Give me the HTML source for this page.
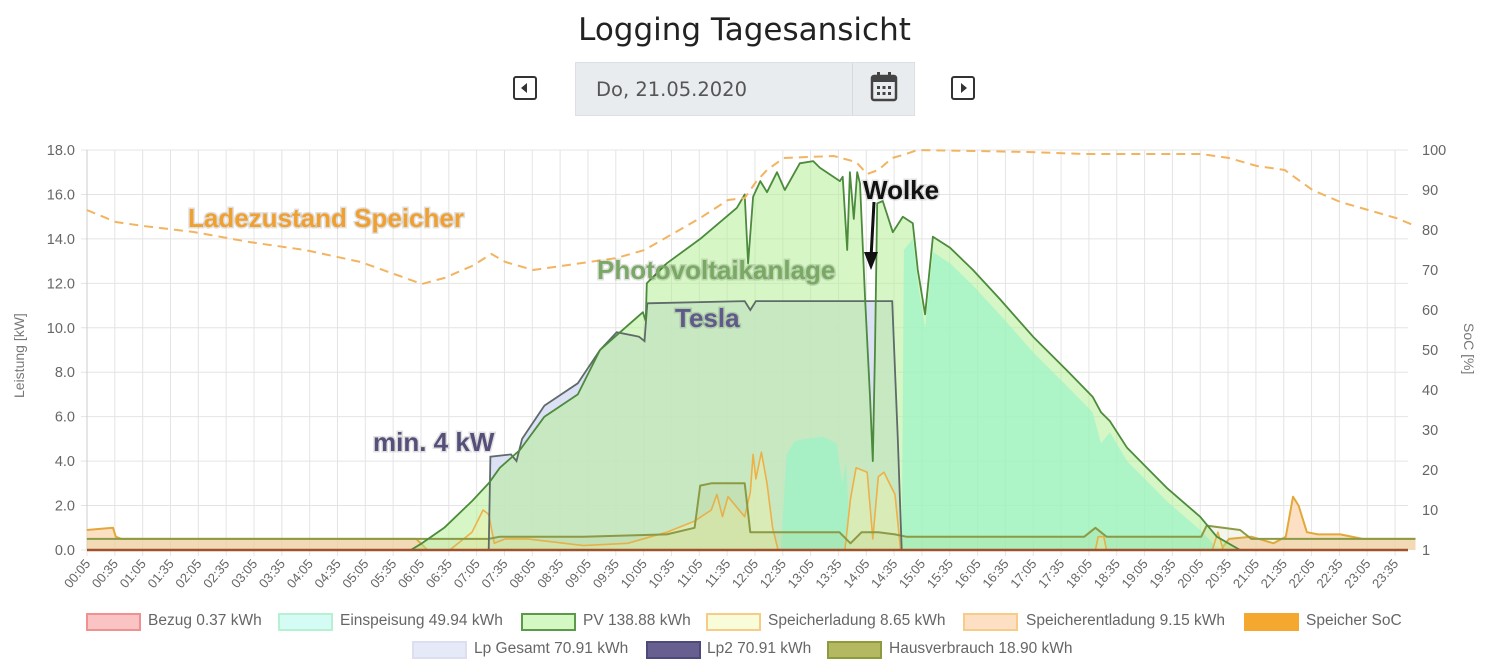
<!DOCTYPE html>
<html><head><meta charset="utf-8">
<style>
body{margin:0;width:1489px;height:668px;background:#fff;overflow:hidden;font-family:"Liberation Sans",sans-serif;position:relative}
.title{position:absolute;left:0;width:1489px;top:12px;text-align:center;font-size:31px;color:#222;font-family:"DejaVu Sans","Liberation Sans",sans-serif}
.nav{position:absolute;top:76px;width:24px;height:24px;border:2px solid #333;border-radius:3px;box-sizing:border-box}
.datebox{position:absolute;left:575px;top:62px;width:340px;height:54px;background:#e9ecef;border:1px solid #dcdfe3;box-sizing:border-box}
.datebox span{position:absolute;left:20px;top:15px;font-size:19.5px;color:#555;font-family:"DejaVu Sans","Liberation Sans",sans-serif}
.cal{position:absolute;left:276px;top:0;width:62px;height:52px;border-left:1px solid #d6d9dd}
.leg{position:absolute;font-size:15.5px;color:#666;line-height:18px}
.lb{position:absolute;width:51px;height:14px;border:2px solid}
</style></head><body>
<div class="title">Logging Tagesansicht</div>
<div class="nav" style="left:513px"><svg width="20" height="20"><polygon points="12,5 12,15 6,10" fill="#333"/></svg></div>
<div class="datebox"><span>Do, 21.05.2020</span>
<div class="cal"><svg width="62" height="52"><rect x="19" y="13" width="24" height="24" rx="2" fill="none" stroke="#444" stroke-width="2.5"/><rect x="19" y="13" width="24" height="6" fill="#444"/><rect x="24" y="9" width="3" height="6" fill="#444"/><rect x="35" y="9" width="3" height="6" fill="#444"/><g fill="#444"><rect x="24" y="23" width="3" height="3"/><rect x="29.5" y="23" width="3" height="3"/><rect x="35" y="23" width="3" height="3"/><rect x="24" y="29" width="3" height="3"/><rect x="29.5" y="29" width="3" height="3"/><rect x="35" y="29" width="3" height="3"/></g></svg></div></div>
<div class="nav" style="left:951px"><svg width="20" height="20"><polygon points="8,5 8,15 14,10" fill="#333"/></svg></div>

<svg id="chart" width="1489" height="668" style="position:absolute;left:0;top:0"></svg>

<div>
<div class="lb" style="left:86px;top:613px;background:#fbc4c4;border-color:#f09090"></div><div class="leg" style="left:148px;top:612px">Bezug 0.37 kWh</div>
<div class="lb" style="left:278px;top:613px;background:#d4fbf4;border-color:#b8f0d4"></div><div class="leg" style="left:340px;top:612px">Einspeisung 49.94 kWh</div>
<div class="lb" style="left:521px;top:613px;background:#d4f8c4;border-color:#5c9a4a"></div><div class="leg" style="left:583px;top:612px">PV 138.88 kWh</div>
<div class="lb" style="left:706px;top:613px;background:#f8fcd8;border-color:#f6cc88"></div><div class="leg" style="left:768px;top:612px">Speicherladung 8.65 kWh</div>
<div class="lb" style="left:963px;top:613px;background:#fde0c4;border-color:#f6cc88"></div><div class="leg" style="left:1026px;top:612px">Speicherentladung 9.15 kWh</div>
<div class="lb" style="left:1244px;top:613px;background:#f4a830;border-color:#f4a830"></div><div class="leg" style="left:1306px;top:612px">Speicher SoC</div>
<div class="lb" style="left:412px;top:641px;background:#e6e9f8;border-color:#dcdfee"></div><div class="leg" style="left:474px;top:640px">Lp Gesamt 70.91 kWh</div>
<div class="lb" style="left:646px;top:641px;background:#675f90;border-color:#4c4a7a"></div><div class="leg" style="left:707px;top:640px">Lp2 70.91 kWh</div>
<div class="lb" style="left:827px;top:641px;background:#b4b860;border-color:#8e9a3e"></div><div class="leg" style="left:889px;top:640px">Hausverbrauch 18.90 kWh</div>
</div>

<script>
const leftTicks=["0.0","2.0","4.0","6.0","8.0","10.0","12.0","14.0","16.0","18.0"];
const rightTicks=["1","10","20","30","40","50","60","70","80","90","100"];
const pvTimes=[5.9,6.1,6.5,7.0,7.3,7.5,7.86,8.3,8.9,9.3,9.66,10.07,10.12,10.14,10.5,11.1,11.76,11.9,11.96,12.05,12.18,12.3,12.48,12.62,12.89,13.13,13.25,13.61,13.66,13.74,13.79,13.86,13.92,13.97,14.06,14.15,14.2,14.24,14.28,14.38,14.56,14.74,14.92,15.01,15.14,15.28,15.59,16.0,16.48,17.08,17.68,18.15,18.3,18.46,18.77,19.48,20.08,20.38,20.8];
const pvValues=[0,0.3,1.0,2.2,3.0,3.7,4.5,6.0,7.0,9.0,9.8,10.7,10.3,12.0,12.9,14.0,15.4,16.0,12.9,15.9,16.6,16.1,17.0,16.2,17.4,17.5,17.2,16.6,16.8,13.5,17.0,14.9,17.0,16.5,11.4,6.9,4.0,9.0,15.6,15.7,14.3,15.0,14.7,12.6,10.6,14.1,13.6,12.6,11.3,9.6,8.1,6.9,6.2,5.8,4.6,2.8,1.5,0.6,0];
const einTimes=[12.55,12.65,12.8,13.0,13.3,13.55,13.65,13.72,13.8,14.72,14.76,14.92,15.01,15.14,15.28,15.59,16.0,16.48,17.08,17.68,18.15,18.3,18.46,18.77,19.48,20.08,20.35,20.5];
const einValues=[0,4.3,4.9,5.0,5.1,4.8,3.0,4.0,0,0,13.5,14.0,12.0,10.0,13.4,12.9,11.9,10.6,8.9,7.4,6.2,4.8,5.3,4.0,2.2,0.9,0.2,0];
const hausTimes=[0.08,6.0,7.3,7.5,9.0,10.5,11.0,11.1,11.3,11.9,12.0,12.1,13.6,13.8,14.0,14.3,14.6,14.8,18.0,18.2,18.4,20.1,20.2,20.8,21.0,23.95];
const hausValues=[0.5,0.5,0.5,0.6,0.6,0.7,1.0,2.9,3.0,3.0,0.8,0.8,0.8,0.3,0.8,0.8,0.7,0.6,0.6,1.0,0.6,0.6,1.1,0.9,0.5,0.5];
const ladTimes=[6.6,7.0,7.2,7.3,7.4,7.6,8.0,9.0,9.8,10.5,11.0,11.3,11.4,11.5,11.6,11.9,12.0,12.05,12.1,12.2,12.3,12.4,12.5,13.7,13.8,13.9,14.1,14.2,14.3,14.4,14.6,14.7,18.2,18.25,18.35,18.4,20.3,20.4,20.5];
const ladValues=[0,0.8,1.8,1.6,0.3,0.5,0.5,0.2,0.3,0.8,1.3,1.8,2.5,1.5,2.4,1.5,2.6,4.3,3.2,4.4,3.0,1.0,0,0,2.3,3.7,3.5,0.5,3.3,3.5,2.5,0,0,0.6,0.6,0,0,0.8,0];
const entTimes=[0.08,0.55,0.6,0.7,6.0,6.2,20.45,20.6,21.0,21.4,21.62,21.75,21.85,22.0,22.2,22.6,23.0,23.95];
const entValues=[0.9,1.0,0.6,0.5,0.5,0,0,0.5,0.6,0.3,0.6,2.4,2.0,0.8,0.7,0.7,0.5,0.5];
const lpTimes=[7.3,7.33,7.7,7.8,7.9,8.3,8.9,9.3,9.6,10.0,10.1,10.15,11.9,12.0,12.1,14.55,14.65,14.72];
const lpValues=[0,4.2,4.3,4.0,5.0,6.5,7.5,9.0,9.8,9.6,9.4,11.1,11.2,10.8,11.2,11.2,5,0];
const socTimes=[0.08,0.6,1.1,2.0,3.0,4.0,5.0,5.6,6.1,6.5,7.0,7.35,7.6,8.1,8.6,9.1,9.6,10.1,10.6,11.1,11.6,11.9,12.1,12.3,12.6,13.5,13.9,14.1,14.3,14.55,14.8,15.0,17.0,18.0,20.1,20.6,21.1,21.6,22.1,22.6,23.1,23.6,23.95];
const socValues=[85,82,81,79.5,77,75,72,69,66.5,68,71,74,72,70,71,72,73,75,79,83,87.5,88,92,95,98,98.5,97,94,95,98,99,100,99.5,99,99,98,96,95,90,87,85,83,81];

const NS="http://www.w3.org/2000/svg";
const svg=document.getElementById('chart');
const X0=87,PX=0.9277,YB=550,YT=150,XR=1408;
function xs(h){return X0+(h*60-5)*PX;}
function yl(v){return YB-(v/18)*(YB-YT);}
function yr(v){return YB-(v/100)*(YB-YT);}
function mk(tag,attrs,parent){const e=document.createElementNS(NS,tag);for(const k in attrs)e.setAttribute(k,attrs[k]);(parent||svg).appendChild(e);return e;}

const grid=mk('g',{});


for(let i=0;i<leftTicks.length;i++){
  const v=parseFloat(leftTicks[i]);const y=yl(v);
  mk('line',{x1:X0-6,x2:XR,y1:y,y2:y,stroke:'#e4e4e4','stroke-width':1},grid);
  const t=mk('text',{x:X0-12,y:y+5,'text-anchor':'end','font-size':14.5,fill:'#666'});
  t.textContent=leftTicks[i];
  
  
}
for(let i=0;i<rightTicks.length;i++){
  const v=i===0?0:parseFloat(rightTicks[i]);const y=yr(v);
  const t=mk('text',{x:XR+14,y:y+5,'font-size':14.5,fill:'#666'});
  t.textContent=rightTicks[i];
  
  
}
for(let i=0;i<48;i++){
  const m=5+30*i;const h=m/60;const x=xs(h);
  mk('line',{x1:x,x2:x,y1:YT,y2:YB+6,stroke:'#e4e4e4','stroke-width':1},grid);
  const lab=String(Math.floor(m/60)).padStart(2,'0')+':'+String(m%60).padStart(2,'0');
  const t=mk('text',{x:x+4,y:YB+14,'text-anchor':'end','font-size':13,fill:'#666',transform:`rotate(-50 ${x+4} ${YB+14})`});
  t.textContent=lab;
  
  
}
mk('line',{x1:X0,x2:X0,y1:YT,y2:YB,stroke:'#ccc'});

function pts(ts,vs,yf){const n=Math.min(ts.length,vs.length);let s=[];for(let i=0;i<n;i++)s.push(xs(ts[i]).toFixed(1)+','+yf(vs[i]).toFixed(1));return s;}
function area(ts,vs,fill,stroke,sw,name){
  const p=pts(ts,vs,yl);const n=Math.min(ts.length,vs.length);
  const d='M'+xs(ts[0]).toFixed(1)+','+YB+' L'+p.join(' L')+' L'+xs(ts[n-1]).toFixed(1)+','+YB+' Z';
  const a=mk('path',{d:d,fill:fill,stroke:'none'});
  
  
  if(stroke){const l=mk('polyline',{points:p.join(' '),fill:'none',stroke:stroke,'stroke-width':sw,'stroke-linejoin':'round'});
  
  }
}
area(entTimes,entValues,'rgba(252,214,176,0.75)','#e2a83a',2,'speicherentladung');
area(lpTimes,lpValues,'rgba(215,220,245,0.85)',null,0,'lp-gesamt');
area(pvTimes,pvValues,'rgba(180,238,150,0.55)',null,0,'pv');
area(einTimes,einValues,'rgba(150,245,200,0.65)',null,0,'einspeisung');
area(ladTimes,ladValues,'rgba(240,240,170,0.45)','#eeb048',1.6,'speicherladung');
area(hausTimes,hausValues,'rgba(170,180,90,0.12)','#8c9a45',2,'hausverbrauch');
(function(){const l=mk('polyline',{points:pts(lpTimes,lpValues,yl).join(' '),fill:'none',stroke:'#5f6a6a','stroke-width':1.8});


const p=mk('polyline',{points:pts(pvTimes,pvValues,yl).join(' '),fill:'none',stroke:'#4c8a3c','stroke-width':1.8,'stroke-linejoin':'round'});


const b=mk('line',{x1:X0,x2:XR,y1:YB,y2:YB,stroke:'#a0522d','stroke-width':2.5});


const s=mk('polyline',{points:pts(socTimes,socValues,yr).join(' '),fill:'none',stroke:'#f2b460','stroke-width':2,'stroke-dasharray':'9,6'});

})();

function txt(x,y,str,size,fill,name,extra){const t=mk('text',Object.assign({x:x,y:y,'font-size':size,fill:fill,'font-weight':'bold'},extra||{}));t.textContent=str;

return t;}
txt(0,0,'Leistung [kW]',14,'#777','y-left-title',{'font-weight':'normal',transform:'translate(24,398) rotate(-90)'});
txt(0,0,'SoC [%]',14,'#777','y-right-title',{'font-weight':'normal',transform:'translate(1464,323) rotate(90)'});
const sh={style:'paint-order:stroke;stroke:rgba(0,0,0,0.12);stroke-width:3px'};
txt(188,227,'Ladezustand Speicher',26,'#f0a030','annotation-ladezustand',sh);
txt(597,279,'Photovoltaikanlage',26,'#7aa865','annotation-pv',sh);
txt(675,327,'Tesla',26,'#5f5a8a','annotation-tesla',sh);
txt(373,451,'min. 4 kW',26,'#55507a','annotation-min-4kw',sh);
txt(863,199,'Wolke',26,'#111','annotation-wolke',sh);
const ar=mk('line',{x1:874,y1:202,x2:871,y2:258,stroke:'#111','stroke-width':3});


mk('polygon',{points:'864,252 878,252 871,270',fill:'#111'});
</script>
</body></html>
